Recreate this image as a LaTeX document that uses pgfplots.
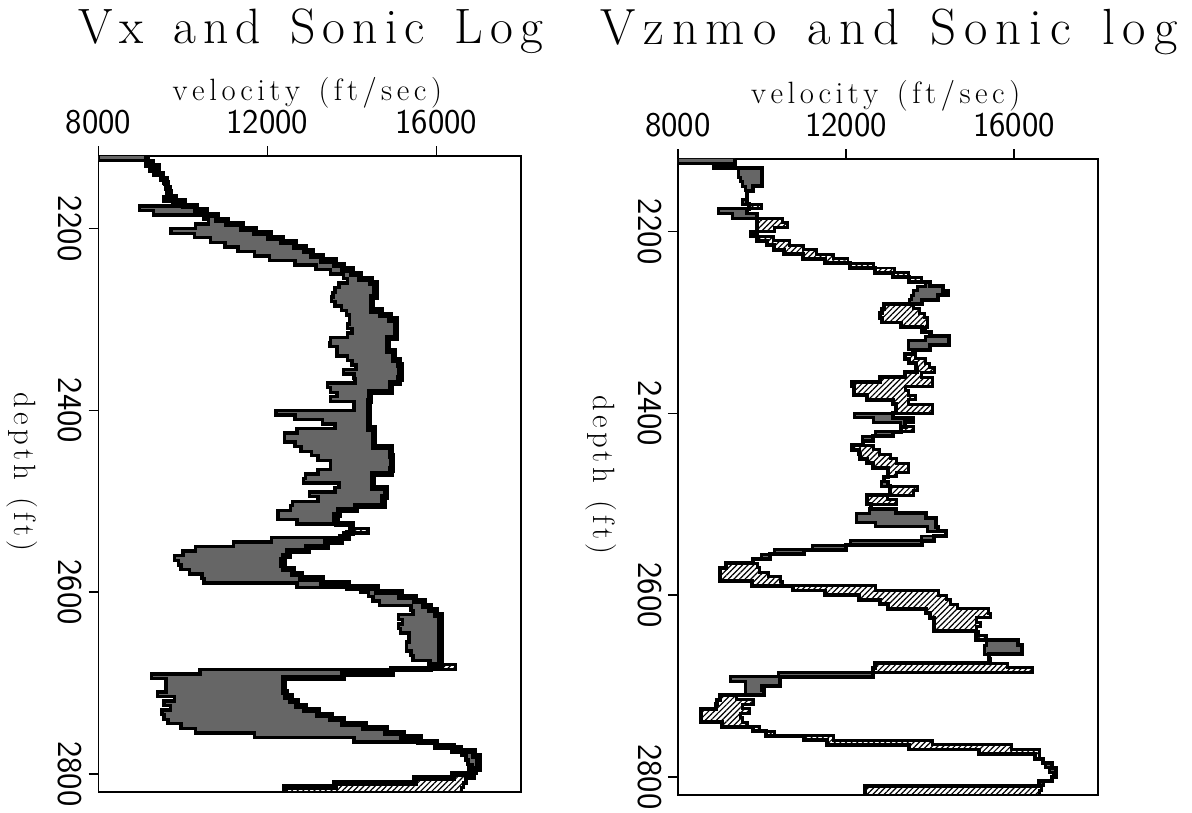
\documentclass[border=0pt]{standalone}
\usepackage{fontspec}
\usepackage{pgfplots}
\pgfplotsset{compat=1.18}
\usepackage{pgfplotstable}
\usepgfplotslibrary{fillbetween}
\usetikzlibrary{patterns.meta}

% d = depth (ft), s = sonic log, x = Vx, hx = max(s,x), z = Vznmo, hz = max(s,z)
\pgfplotstableread{
d s x hx z hz
2120 8000 9150 9150 9370 9370
2125 9300 9150 9300 8850 9300
2130 9450 9250 9450 10000 10000
2135 9450 9350 9450 10000 10000
2140 9500 9500 9500 10000 10000
2145 9550 9590 9590 10000 10000
2150 9600 9620 9620 9800 9800
2155 9650 9660 9660 9650 9650
2160 9650 9680 9680 9650 9650
2165 9550 9800 9800 9650 9650
2170 10000 10020 10020 9700 10000
2175 8970 10300 10300 9650 9650
2180 9300 10550 10550 9880 9880
2185 10500 10800 10800 9880 10500
2190 10600 11050 11050 9880 10600
2195 10300 11400 11400 9880 10300
2200 9720 11700 11700 9800 9800
2205 10270 12050 12050 9880 10270
2210 10650 12350 12350 10120 10650
2215 11000 12650 12650 10300 11000
2220 11300 12900 12900 10520 11300
2225 11700 13050 13050 10990 11700
2230 12050 13300 13300 11500 12050
2235 12650 13600 13600 12100 12650
2240 13150 13800 13800 12700 13150
2245 13500 14000 14000 13120 13500
2250 13800 14200 14200 13500 13800
2255 13900 14450 14450 14000 14000
2260 13700 14560 14560 14300 14300
2265 13600 14560 14560 14420 14420
2270 13550 14560 14560 14200 14200
2275 13520 14480 14480 13800 13800
2280 13600 14480 14480 12900 13600
2285 13750 14480 14480 12850 13750
2290 13880 14690 14690 12800 13880
2295 13950 14900 14900 12850 13950
2300 13950 15040 15040 13300 13950
2305 13900 15040 15040 13800 13900
2310 14000 15040 15040 14020 14020
2315 13900 15040 15040 14460 14460
2320 13500 14850 14850 14460 14460
2325 13480 14850 14850 14000 14000
2330 13650 14850 14850 13600 13650
2335 13650 15000 15000 13400 13650
2340 13900 15000 15000 13500 13900
2345 14000 15120 15120 13670 14000
2350 14100 15150 15150 13700 14100
2355 13800 15150 15150 13400 13800
2360 14050 15150 15150 12800 14050
2365 14070 15120 15120 12150 14070
2370 13420 14930 14930 12200 13420
2375 13500 14930 14930 12200 13500
2380 13650 14420 14420 12500 13650
2385 13500 14420 14420 13120 13500
2390 14050 14400 14400 13200 14050
2395 14050 14400 14400 13200 14050
2400 12200 14400 14400 13120 13120
2405 12650 14400 14400 13590 13590
2410 13300 14400 14400 13400 13400
2415 13600 14400 14400 13300 13600
2420 12700 14530 14530 13120 13120
2425 12400 14530 14530 12650 12650
2430 12400 14530 14530 12400 12400
2435 12650 14530 14530 12140 12650
2440 12800 14930 14930 12300 12800
2445 13050 14930 14930 12330 13050
2450 13200 14960 14960 12500 13200
2455 13500 14960 14960 12650 13500
2460 13500 14960 14960 13000 13500
2465 13200 14930 14930 13000 13200
2470 12900 14500 14500 12900 12900
2475 12850 14500 14500 13000 13000
2480 13700 14500 14500 13050 13700
2485 13600 14800 14800 13050 13600
2490 13000 14800 14800 12500 13000
2495 13200 14750 14750 12500 13200
2500 12600 14750 14750 12600 12600
2505 12550 14100 14100 13200 13200
2510 12250 13700 13700 13900 13900
2515 12250 13600 13600 14150 14150
2520 12700 13650 13650 14150 14150
2525 13950 14000 14000 14200 14200
2530 14380 14000 14380 14380 14380
2535 13800 13900 13900 14100 14100
2540 12100 13750 13750 13800 13800
2545 11200 13400 13400 12000 12000
2550 10300 12950 12950 11000 11000
2555 10000 12500 12500 10200 10200
2560 9800 12400 12400 9800 9800
2565 9900 12350 12350 9150 9900
2570 9950 12400 12400 9000 9950
2575 10150 12600 12600 9000 10150
2580 10450 12800 12800 9000 10450
2585 10500 13300 13300 9770 10500
2590 12700 13900 13900 10750 12700
2595 14200 14600 14600 11500 14200
2600 14400 15150 15150 12300 14400
2605 14500 15500 15500 12800 14500
2610 14650 15700 15700 13000 14650
2615 15400 15850 15850 13900 15400
2620 15450 16000 16000 14000 15450
2625 15100 16100 16100 14100 15100
2630 15200 16100 16100 14100 15200
2635 15100 16100 16100 14100 15100
2640 15150 16100 16100 15100 15150
2645 15350 16100 16100 15100 15350
2650 15350 16100 16100 16100 16100
2655 15300 16100 16100 16200 16200
2660 15300 16100 16100 16200 16200
2665 15400 16100 16100 15400 15400
2670 15450 16100 16100 15400 15450
2675 15850 16100 16100 12700 15850
2680 16450 15850 16450 12650 16450
2685 10400 14950 14950 12650 12650
2690 9250 13800 13800 10440 10440
2695 9600 12400 12400 10440 10440
2700 9600 12400 12400 10000 10000
2705 9600 12400 12400 10050 10050
2710 9400 12450 12450 9000 9400
2715 9800 12550 12550 8940 9800
2720 9550 12700 12700 8900 9550
2725 9700 12900 12900 8550 9700
2730 9500 13200 13200 8550 9500
2735 9550 13500 13500 8550 9550
2740 9650 13800 13800 9050 9650
2745 9950 14300 14300 9800 9950
2750 10300 14800 14800 10100 10300
2755 11700 15200 15200 11000 11700
2760 14050 15600 15600 11550 14050
2765 15950 16000 16000 13500 15950
2770 16600 16400 16600 15170 16600
2775 16600 16900 16900 16500 16600
2780 16700 17000 17000 16700 16700
2785 16750 17000 17000 16900 16900
2790 16850 17000 17000 17000 17000
2795 16950 16800 16950 17000 17000
2800 16900 16400 16900 16900 16900
2805 16700 15500 16700 16600 16700
2810 16650 13600 16650 12450 16650
2815 16600 12420 16600 12450 16600
2820 16600 12420 16600 12450 16600
}\logdata

% letter-spaced text: \trk{<kern>}{text with ~ for spaces}
\makeatletter
\def\trk@end{\trk@end}
\newcommand\trk[2]{\def\trk@k{\kern#1}\trk@loop#2\trk@end}
\def\trk@loop#1{\ifx#1\trk@end\else#1\trk@k\expandafter\trk@loop\fi}
\makeatother

\newcommand{\lblfont}{\fontsize{15.5}{16}\selectfont}
\newcommand{\tickfont}{\fontsize{17.5}{18}\selectfont\sffamily}

\pgfplotsset{
  logaxis/.style={
    scale only axis, height=320pt,
    anchor=north west,
    xmin=8000, xmax=18000, ymin=2120, ymax=2820, y dir=reverse,
    scaled x ticks=false, scaled y ticks=false,
    xtick={8000,12000,16000}, xticklabels={8000,12000,16000},
    ytick={2200,2400,2600,2800}, yticklabels={2200,2400,2600,2800},
    xtick pos=right, xticklabel pos=right, ytick pos=left,
    tick align=outside, major tick length=5pt,
    axis line style={line width=0.8pt},
    every tick/.style={black, line width=0.8pt},
    xticklabel style={font=\tickfont, inner sep=1pt},
    yticklabel style={font=\tickfont, inner sep=1pt, rotate=-90, anchor=north},
    xticklabel shift=5pt, yticklabel shift=2pt,
    xlabel={\trk{2.3pt}{velocity~(ft/sec)}},
    xlabel style={font=\lblfont, at={(axis description cs:0.5,1)}, anchor=base, yshift=28pt},
    ylabel={\trk{2.1pt}{depth~(ft)}},
    every axis y label/.style={font=\lblfont, at={(axis description cs:-0.128,0.5)}, rotate=-90, anchor=north},
  },
  darkfill/.style={fill=black!60, draw=none},
  hatchfill/.style={pattern={Lines[angle=45,distance=2pt,line width=0.6pt]}, draw=none},
}

\begin{document}
\begin{tikzpicture}
\begin{axis}[logaxis, width=212.5pt, at={(47pt,-78.5pt)}]
\addplot[draw=none, name path=S, const plot mark right] table[x=s,y=d]{\logdata};
\addplot[draw=none, name path=H, const plot mark right] table[x=hx,y=d]{\logdata};
\addplot[draw=none, name path=V, const plot mark right] table[x=x,y=d]{\logdata};
\addplot[darkfill] fill between[of=S and H];
\addplot[hatchfill] fill between[of=V and H];
\addplot[black, line width=1.7pt, const plot mark right] table[x=s,y=d]{\logdata};
\addplot[black, line width=3.1pt, const plot mark right] table[x=x,y=d]{\logdata};
\end{axis}

\begin{axis}[logaxis, width=211.5pt, at={(338.5pt,-80pt)}]
\addplot[draw=none, name path=S, const plot mark right] table[x=s,y=d]{\logdata};
\addplot[draw=none, name path=H, const plot mark right] table[x=hz,y=d]{\logdata};
\addplot[draw=none, name path=V, const plot mark right] table[x=z,y=d]{\logdata};
\addplot[darkfill] fill between[of=S and H];
\addplot[hatchfill] fill between[of=V and H];
\addplot[black, line width=1.5pt, const plot mark right] table[x=s,y=d]{\logdata};
\addplot[black, line width=2pt, const plot mark right] table[x=z,y=d]{\logdata};
\end{axis}

\node[anchor=base, font=\fontsize{25}{26}\selectfont] at (155.5pt,-21.7pt) {\trk{3.6pt}{Vx~and~Sonic~Log}};
\node[anchor=base, font=\fontsize{25.6}{26}\selectfont] at (446.7pt,-22.2pt) {\trk{4pt}{Vznmo~and~Sonic~log}};
\path (0,0) rectangle (596pt,-409pt);
\end{tikzpicture}
\end{document}
